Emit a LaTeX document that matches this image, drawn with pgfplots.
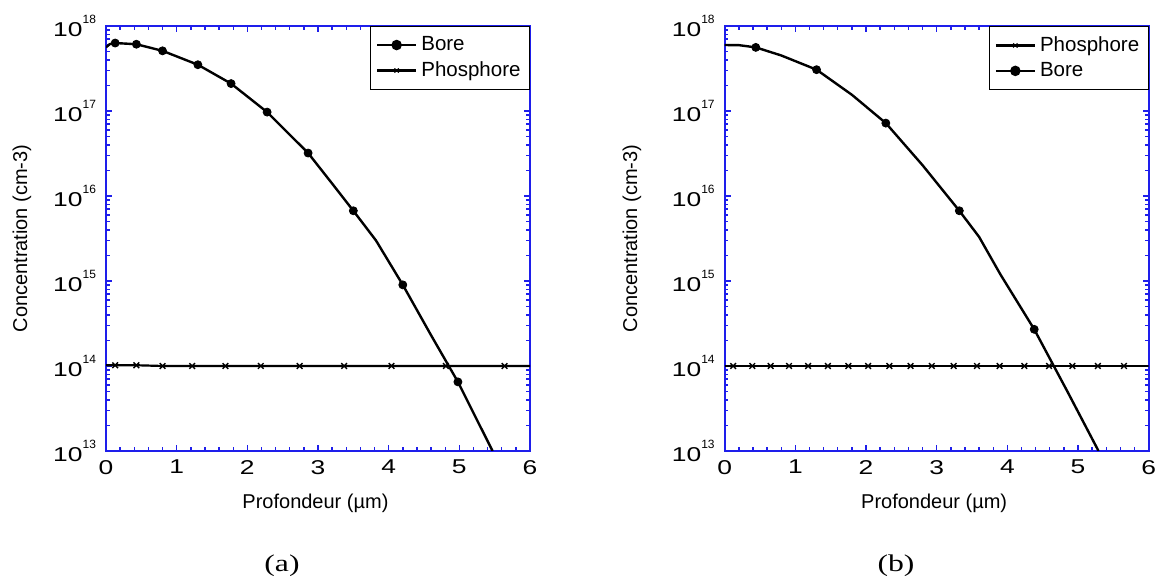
\documentclass[border=0pt]{standalone}
\usepackage{fontspec}
\setmainfont{Liberation Sans}
\newfontfamily\serif{Liberation Serif}
\usepackage{graphicx}
\usepackage{pgfplots}
\usepackage{pgfplotstable}
\pgfplotsset{compat=1.18}
\definecolor{axblue}{RGB}{30,30,235}
\newcommand{\sx}[1]{\scalebox{1.32}[1]{\rmfamily #1}}
\newcommand{\cx}[1]{\scalebox{1.32}[1]{#1}}
\newcommand{\ylab}{\sx{10}\raisebox{0.62em}{\rmfamily\fontsize{6}{7}\selectfont\pgfmathparse{int(round(\tick/ln(10)))}\pgfmathresult}}

\pgfplotstableread{
x C
0.00 5.6e17
0.05 6.1e17
0.13 6.3e17
0.43 6.1e17
0.80 5.1e17
1.30 3.5e17
1.77 2.1e17
2.28 9.7e16
2.86 3.2e16
3.20 1.4e16
3.50 6.7e15
3.82 3.0e15
4.20 9.0e14
4.60 2.3e14
4.98 6.5e13
5.47 1.0e13
}\boreAline
\pgfplotstableread{
x C
0.13 6.3e17
0.43 6.1e17
0.80 5.1e17
1.30 3.5e17
1.77 2.1e17
2.28 9.7e16
2.86 3.2e16
3.50 6.7e15
4.20 9.0e14
4.98 6.5e13
}\boreAmarks
\pgfplotstableread{
x C
0.00 1.02e14
0.43 1.02e14
0.80 1.0e14
6.00 1.0e14
}\phosAline
\pgfplotstableread{
x C
0.13 1.02e14
0.43 1.02e14
0.80 1.0e14
1.22 1.0e14
1.69 1.0e14
2.19 1.0e14
2.74 1.0e14
3.37 1.0e14
4.04 1.0e14
4.81 1.0e14
5.64 1.0e14
}\phosAmarks
\pgfplotstableread{
x C
0.00 5.97e17
0.20 5.95e17
0.44 5.6e17
0.80 4.5e17
1.30 3.06e17
1.80 1.55e17
2.28 7.2e16
2.80 2.3e16
3.32 6.7e15
3.60 3.3e15
3.90 1.2e15
4.38 2.7e14
4.85 5.0e13
5.29 1.0e13
}\boreBline
\pgfplotstableread{
x C
0.44 5.6e17
1.30 3.06e17
2.28 7.2e16
3.32 6.7e15
4.38 2.7e14
}\boreBmarks
\pgfplotstableread{
x C
0.00 1.0e14
6.00 1.0e14
}\phosBline
\pgfplotstableread{
x C
0.12 1.0e14
0.39 1.0e14
0.65 1.0e14
0.91 1.0e14
1.18 1.0e14
1.46 1.0e14
1.75 1.0e14
2.03 1.0e14
2.33 1.0e14
2.63 1.0e14
2.93 1.0e14
3.24 1.0e14
3.57 1.0e14
3.89 1.0e14
4.24 1.0e14
4.59 1.0e14
4.92 1.0e14
5.28 1.0e14
5.65 1.0e14
}\phosBmarks

\begin{document}
\begin{tikzpicture}
\useasboundingbox (0,0) rectangle (578pt,291.5pt);

\begin{axis}[at={(53pt,66pt)}, anchor=south west,
    scale only axis, width=212pt, height=212.5pt,
    ymode=log, xmin=0, xmax=6, ymin=1e13, ymax=1e18,
    axis line style={draw=axblue, line width=0.9pt},
    every tick/.style={draw=axblue, line width=0.7pt},
    major tick length=3pt, minor tick length=1.8pt,
    tick align=inside, xtick pos=both, ytick pos=both,
    xtick={0,1,2,3,4,5,6},
    xticklabels={\sx{0},\sx{1},\sx{2},\sx{3},\sx{4},\sx{5},\sx{6}},
    minor x tick num=4,
    yticklabel={\ylab},
    tick label style={font=\fontsize{10}{12}\selectfont},
    yticklabel style={xshift=-1.5pt},
    xticklabel style={yshift=-1pt},
    xlabel={Profondeur (µm)}, ylabel={Concentration (cm-3)},
    label style={font=\fontsize{11.25}{13}\selectfont},
    every axis x label/.style={at={(axis description cs:0.494,-0.122)}, anchor=center},
    every axis y label/.style={at={(axis description cs:-0.198,0.5)}, rotate=90, anchor=center},
    legend style={at={(1,1)}, anchor=north east, draw=black, line width=0.5pt,
      font=\fontsize{10.25}{12}\selectfont, inner xsep=2.5pt, inner ysep=3pt},
    legend cell align=left,
    legend image code/.code={\draw[mark repeat=2,mark phase=2,#1] plot coordinates {(0pt,0pt) (9.75pt,0pt) (19.5pt,0pt)};},
  ]
\addplot[black, line width=1.2pt, forget plot] table[x=x,y=C] {\boreAline};
\addplot[black, only marks, mark=*, mark size=2pt, forget plot] table[x=x,y=C] {\boreAmarks};
\addplot[black, line width=1.1pt, forget plot] table[x=x,y=C] {\phosAline};
\addplot[black, only marks, mark=x, mark size=2pt, mark options={line width=0.7pt}, forget plot] table[x=x,y=C] {\phosAmarks};
\addlegendimage{black, line width=1.2pt, mark=*, mark size=2pt}
\addlegendentry{Bore}
\addlegendimage{black, line width=1.1pt, mark=x, mark size=1.5pt, mark options={line width=0.5pt}}
\addlegendentry{Phosphore}
\end{axis}

\begin{axis}[at={(362.35pt,66pt)}, anchor=south west,
    scale only axis, width=212pt, height=212.5pt,
    ymode=log, xmin=0, xmax=6, ymin=1e13, ymax=1e18,
    axis line style={draw=axblue, line width=0.9pt},
    every tick/.style={draw=axblue, line width=0.7pt},
    major tick length=3pt, minor tick length=1.8pt,
    tick align=inside, xtick pos=both, ytick pos=both,
    xtick={0,1,2,3,4,5,6},
    xticklabels={\sx{0},\sx{1},\sx{2},\sx{3},\sx{4},\sx{5},\sx{6}},
    minor x tick num=4,
    yticklabel={\ylab},
    tick label style={font=\fontsize{10}{12}\selectfont},
    yticklabel style={xshift=-1.5pt},
    xticklabel style={yshift=-1pt},
    xlabel={Profondeur (µm)}, ylabel={Concentration (cm-3)},
    label style={font=\fontsize{11.25}{13}\selectfont},
    every axis x label/.style={at={(axis description cs:0.494,-0.122)}, anchor=center},
    every axis y label/.style={at={(axis description cs:-0.219,0.5)}, rotate=90, anchor=center},
    legend style={at={(1,1)}, anchor=north east, draw=black, line width=0.5pt,
      font=\fontsize{10.25}{12}\selectfont, inner xsep=2.5pt, inner ysep=3pt},
    legend cell align=left,
    legend image code/.code={\draw[mark repeat=2,mark phase=2,#1] plot coordinates {(0pt,0pt) (9.75pt,0pt) (19.5pt,0pt)};},
  ]
\addplot[black, line width=1.2pt, forget plot] table[x=x,y=C] {\boreBline};
\addplot[black, only marks, mark=*, mark size=2pt, forget plot] table[x=x,y=C] {\boreBmarks};
\addplot[black, line width=1.1pt, forget plot] table[x=x,y=C] {\phosBline};
\addplot[black, only marks, mark=x, mark size=2pt, mark options={line width=0.7pt}, forget plot] table[x=x,y=C] {\phosBmarks};
\addlegendimage{black, line width=1.1pt, mark=x, mark size=1.5pt, mark options={line width=0.5pt}}
\addlegendentry{Phosphore}
\addlegendimage{black, line width=1.2pt, mark=*, mark size=2pt}
\addlegendentry{Bore}
\end{axis}

\node[font=\serif\fontsize{12}{14}\selectfont] at (141pt,8.5pt) {\cx{(a)}};
\node[font=\serif\fontsize{12}{14}\selectfont] at (448pt,8.5pt) {\cx{(b)}};
\end{tikzpicture}
\end{document}
